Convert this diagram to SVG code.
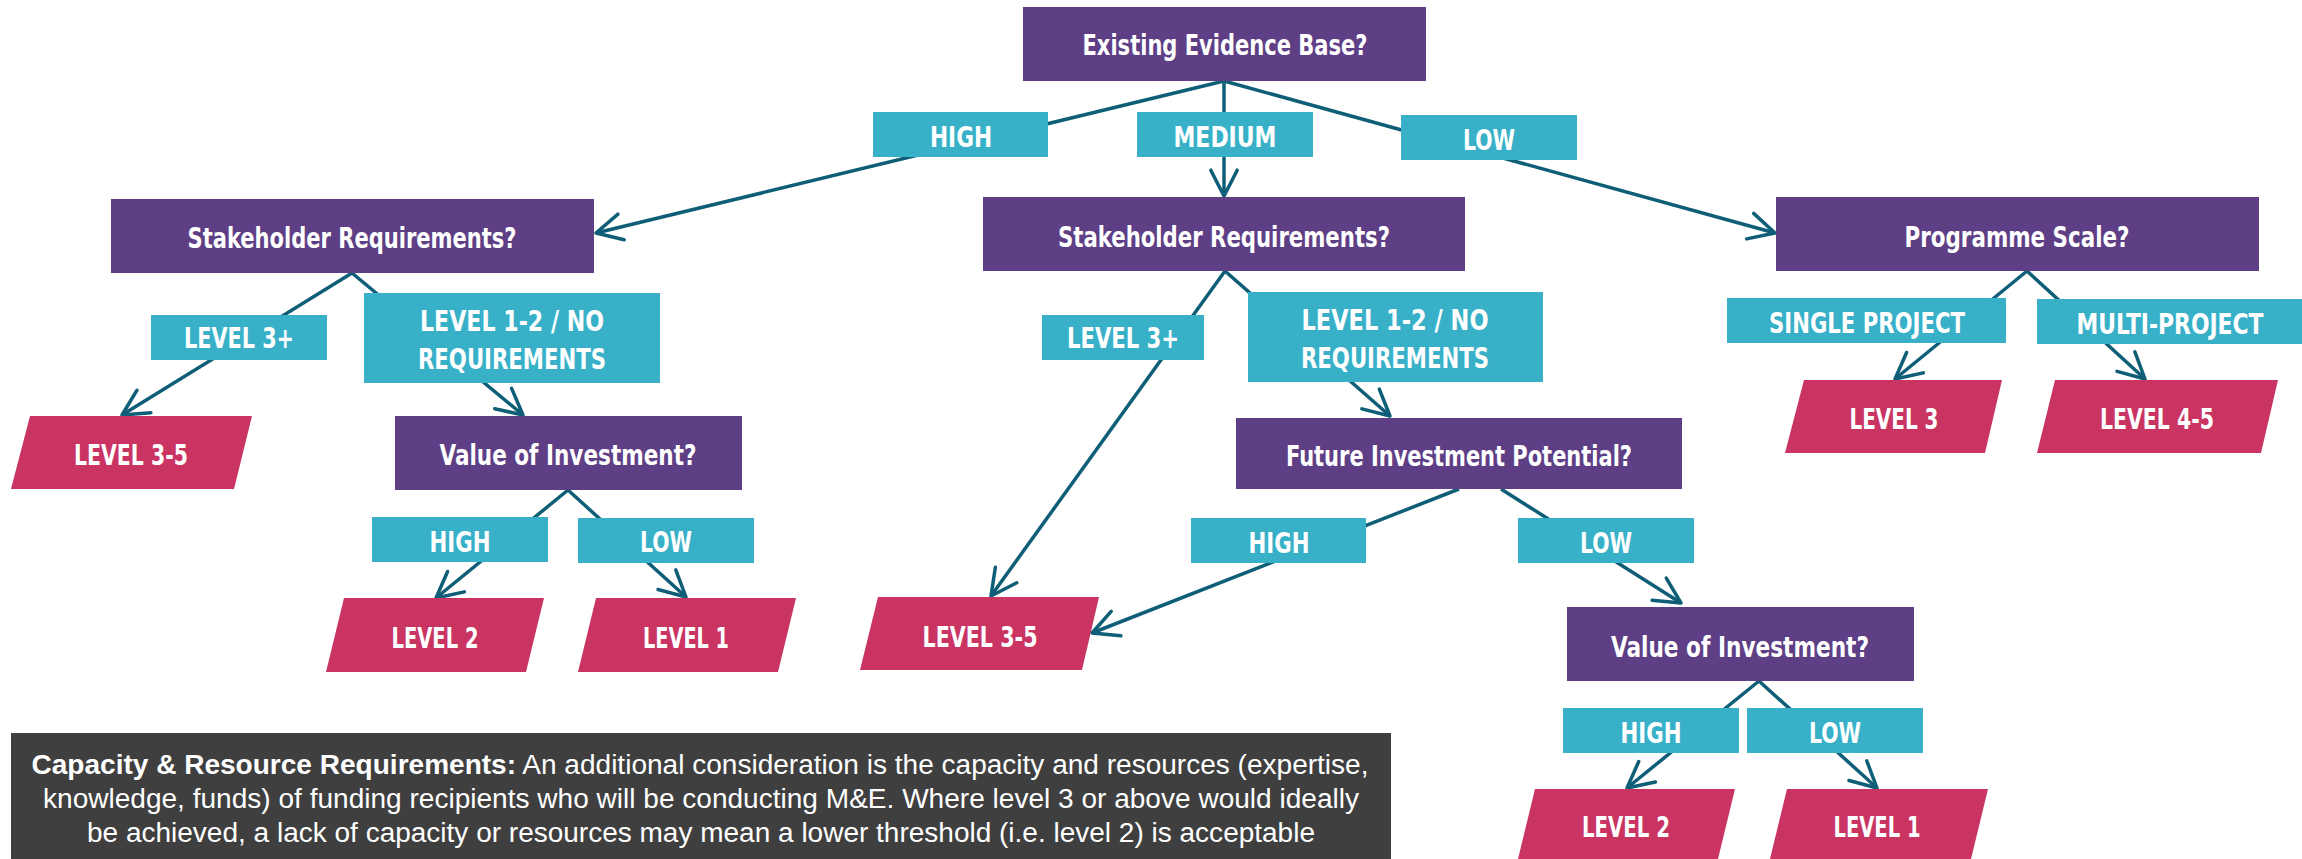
<svg xmlns="http://www.w3.org/2000/svg" width="2302" height="859" viewBox="0 0 2302 859">
<defs>
<style>
.q{fill:#5e3f86}
.b{fill:#38b1c8}
.p{fill:#c93463}
.t{font-family:'DejaVu Sans Condensed','Liberation Sans Narrow','DejaVu Sans',sans-serif;font-stretch:condensed;font-weight:bold;font-size:29px;fill:#ffffff;text-anchor:middle}
.c line{stroke:#0f5e78;stroke-width:3.5;fill:none;marker-end:url(#ah)}
.n{font-family:'Liberation Sans',Arial,sans-serif;font-size:27px;fill:#ffffff;text-anchor:middle}
</style>
<marker id="ah" viewBox="-30 -16 34 32" markerWidth="34" markerHeight="32" refX="0" refY="0" orient="auto" markerUnits="userSpaceOnUse" overflow="visible">
<path d="M -25.8,-13.2 L 0,0 L -25.8,13.2" fill="none" stroke="#0f5e78" stroke-width="3.5" stroke-linecap="round" stroke-linejoin="round"/>
</marker>
</defs>
<rect width="2302" height="859" fill="#ffffff"/>
<g id="connectors" class="c">
<line x1="1224" y1="81" x2="596" y2="233"/>
<line x1="1224" y1="81" x2="1224" y2="196"/>
<line x1="1224" y1="81" x2="1775" y2="233"/>
<line x1="352" y1="273" x2="122" y2="415"/>
<line x1="352" y1="273" x2="523" y2="415"/>
<line x1="568" y1="490" x2="436" y2="598"/>
<line x1="568" y1="490" x2="686" y2="597"/>
<line x1="1225" y1="271" x2="991" y2="596"/>
<line x1="1225" y1="271" x2="1390" y2="416"/>
<line x1="1459" y1="489" x2="1092" y2="633"/>
<line x1="1501" y1="489" x2="1681" y2="603"/>
<line x1="1759" y1="681" x2="1627" y2="788"/>
<line x1="1759" y1="681" x2="1877" y2="788"/>
<line x1="2027" y1="271" x2="1895" y2="379"/>
<line x1="2027" y1="271" x2="2145" y2="379"/>
</g>
<g id="evidence"><rect class="q" x="1023" y="7" width="403" height="74"/><text class="t" x="1225" y="55" textLength="285" lengthAdjust="spacingAndGlyphs">Existing Evidence Base?</text></g>
<g id="ev-high"><rect class="b" x="873" y="112" width="175" height="45"/><text class="t" x="961" y="147" textLength="62" lengthAdjust="spacingAndGlyphs">HIGH</text></g>
<g id="ev-medium"><rect class="b" x="1137" y="112" width="176" height="45"/><text class="t" x="1225" y="147" textLength="103" lengthAdjust="spacingAndGlyphs">MEDIUM</text></g>
<g id="ev-low"><rect class="b" x="1401" y="115" width="176" height="45"/><text class="t" x="1489" y="150" textLength="52" lengthAdjust="spacingAndGlyphs">LOW</text></g>
<g id="stake-left"><rect class="q" x="111" y="199" width="483" height="74"/><text class="t" x="352" y="248" textLength="329" lengthAdjust="spacingAndGlyphs">Stakeholder Requirements?</text></g>
<g id="stake-mid"><rect class="q" x="983" y="197" width="482" height="74"/><text class="t" x="1224" y="247" textLength="332" lengthAdjust="spacingAndGlyphs">Stakeholder Requirements?</text></g>
<g id="prog-scale"><rect class="q" x="1776" y="197" width="483" height="74"/><text class="t" x="2017" y="247" textLength="225" lengthAdjust="spacingAndGlyphs">Programme Scale?</text></g>
<g id="l3plus-left"><rect class="b" x="151" y="315" width="176" height="45"/><text class="t" x="239" y="348" textLength="110" lengthAdjust="spacingAndGlyphs">LEVEL 3+</text></g>
<g id="l12-left"><rect class="b" x="364" y="293" width="296" height="90"/><text class="t" x="512" y="331" textLength="184" lengthAdjust="spacingAndGlyphs">LEVEL 1-2 / NO</text><text class="t" x="512" y="369" textLength="188" lengthAdjust="spacingAndGlyphs">REQUIREMENTS</text></g>
<g id="l3plus-mid"><rect class="b" x="1042" y="315" width="162" height="45"/><text class="t" x="1123" y="348" textLength="112" lengthAdjust="spacingAndGlyphs">LEVEL 3+</text></g>
<g id="l12-mid"><rect class="b" x="1248" y="292" width="295" height="90"/><text class="t" x="1395" y="330" textLength="187" lengthAdjust="spacingAndGlyphs">LEVEL 1-2 / NO</text><text class="t" x="1395" y="368" textLength="188" lengthAdjust="spacingAndGlyphs">REQUIREMENTS</text></g>
<g id="single"><rect class="b" x="1727" y="298" width="279" height="45"/><text class="t" x="1867" y="333" textLength="196" lengthAdjust="spacingAndGlyphs">SINGLE PROJECT</text></g>
<g id="multi"><rect class="b" x="2037" y="299" width="265" height="45"/><text class="t" x="2170" y="334" textLength="187" lengthAdjust="spacingAndGlyphs">MULTI-PROJECT</text></g>
<g id="lvl35-left"><polygon class="p" points="30,416 252,416 234,489 11,489"/><text class="t" x="131" y="465" textLength="114" lengthAdjust="spacingAndGlyphs">LEVEL 3-5</text></g>
<g id="value-left"><rect class="q" x="395" y="416" width="347" height="74"/><text class="t" x="568" y="465" textLength="257" lengthAdjust="spacingAndGlyphs">Value of Investment?</text></g>
<g id="future"><rect class="q" x="1236" y="418" width="446" height="71"/><text class="t" x="1459" y="466" textLength="346" lengthAdjust="spacingAndGlyphs">Future Investment Potential?</text></g>
<g id="lvl3"><polygon class="p" points="1804,380 2002,380 1985,453 1785,453"/><text class="t" x="1894" y="429" textLength="89" lengthAdjust="spacingAndGlyphs">LEVEL 3</text></g>
<g id="lvl45"><polygon class="p" points="2055,380 2278,380 2261,453 2037,453"/><text class="t" x="2157" y="429" textLength="114" lengthAdjust="spacingAndGlyphs">LEVEL 4-5</text></g>
<g id="vl-high"><rect class="b" x="372" y="517" width="176" height="45"/><text class="t" x="460" y="552" textLength="61" lengthAdjust="spacingAndGlyphs">HIGH</text></g>
<g id="vl-low"><rect class="b" x="578" y="518" width="176" height="45"/><text class="t" x="666" y="552" textLength="52" lengthAdjust="spacingAndGlyphs">LOW</text></g>
<g id="fu-high"><rect class="b" x="1191" y="518" width="175" height="45"/><text class="t" x="1279" y="553" textLength="61" lengthAdjust="spacingAndGlyphs">HIGH</text></g>
<g id="fu-low"><rect class="b" x="1518" y="518" width="176" height="45"/><text class="t" x="1606" y="553" textLength="52" lengthAdjust="spacingAndGlyphs">LOW</text></g>
<g id="lvl2-left"><polygon class="p" points="344,598 544,598 526,672 326,672"/><text class="t" x="435" y="648" textLength="87" lengthAdjust="spacingAndGlyphs">LEVEL 2</text></g>
<g id="lvl1-left"><polygon class="p" points="596,598 796,598 778,672 578,672"/><text class="t" x="686" y="648" textLength="86" lengthAdjust="spacingAndGlyphs">LEVEL 1</text></g>
<g id="lvl35-mid"><polygon class="p" points="878,597 1099,597 1082,670 860,670"/><text class="t" x="980" y="647" textLength="115" lengthAdjust="spacingAndGlyphs">LEVEL 3-5</text></g>
<g id="value-right"><rect class="q" x="1567" y="607" width="347" height="74"/><text class="t" x="1740" y="657" textLength="258" lengthAdjust="spacingAndGlyphs">Value of Investment?</text></g>
<g id="vr-high"><rect class="b" x="1563" y="708" width="176" height="45"/><text class="t" x="1651" y="743" textLength="61" lengthAdjust="spacingAndGlyphs">HIGH</text></g>
<g id="vr-low"><rect class="b" x="1747" y="708" width="176" height="45"/><text class="t" x="1835" y="743" textLength="52" lengthAdjust="spacingAndGlyphs">LOW</text></g>
<g id="lvl2-right"><polygon class="p" points="1535,789 1735,789 1718,859 1518,859"/><text class="t" x="1626" y="837" textLength="88" lengthAdjust="spacingAndGlyphs">LEVEL 2</text></g>
<g id="lvl1-right"><polygon class="p" points="1787,789 1988,789 1971,859 1770,859"/><text class="t" x="1877" y="837" textLength="87" lengthAdjust="spacingAndGlyphs">LEVEL 1</text></g>
<g id="note"><rect x="11" y="733" width="1380" height="126" fill="#3f3f3f"/>
<text class="n" x="700" y="774" textLength="1337" lengthAdjust="spacingAndGlyphs"><tspan font-weight="bold">Capacity &amp; Resource Requirements:</tspan> An additional consideration is the capacity and resources (expertise,</text>
<text class="n" x="701" y="808" textLength="1316" lengthAdjust="spacingAndGlyphs">knowledge, funds) of funding recipients who will be conducting M&amp;E. Where level 3 or above would ideally</text>
<text class="n" x="701" y="842" textLength="1228" lengthAdjust="spacingAndGlyphs">be achieved, a lack of capacity or resources may mean a lower threshold (i.e. level 2) is acceptable</text>
</g>
</svg>
